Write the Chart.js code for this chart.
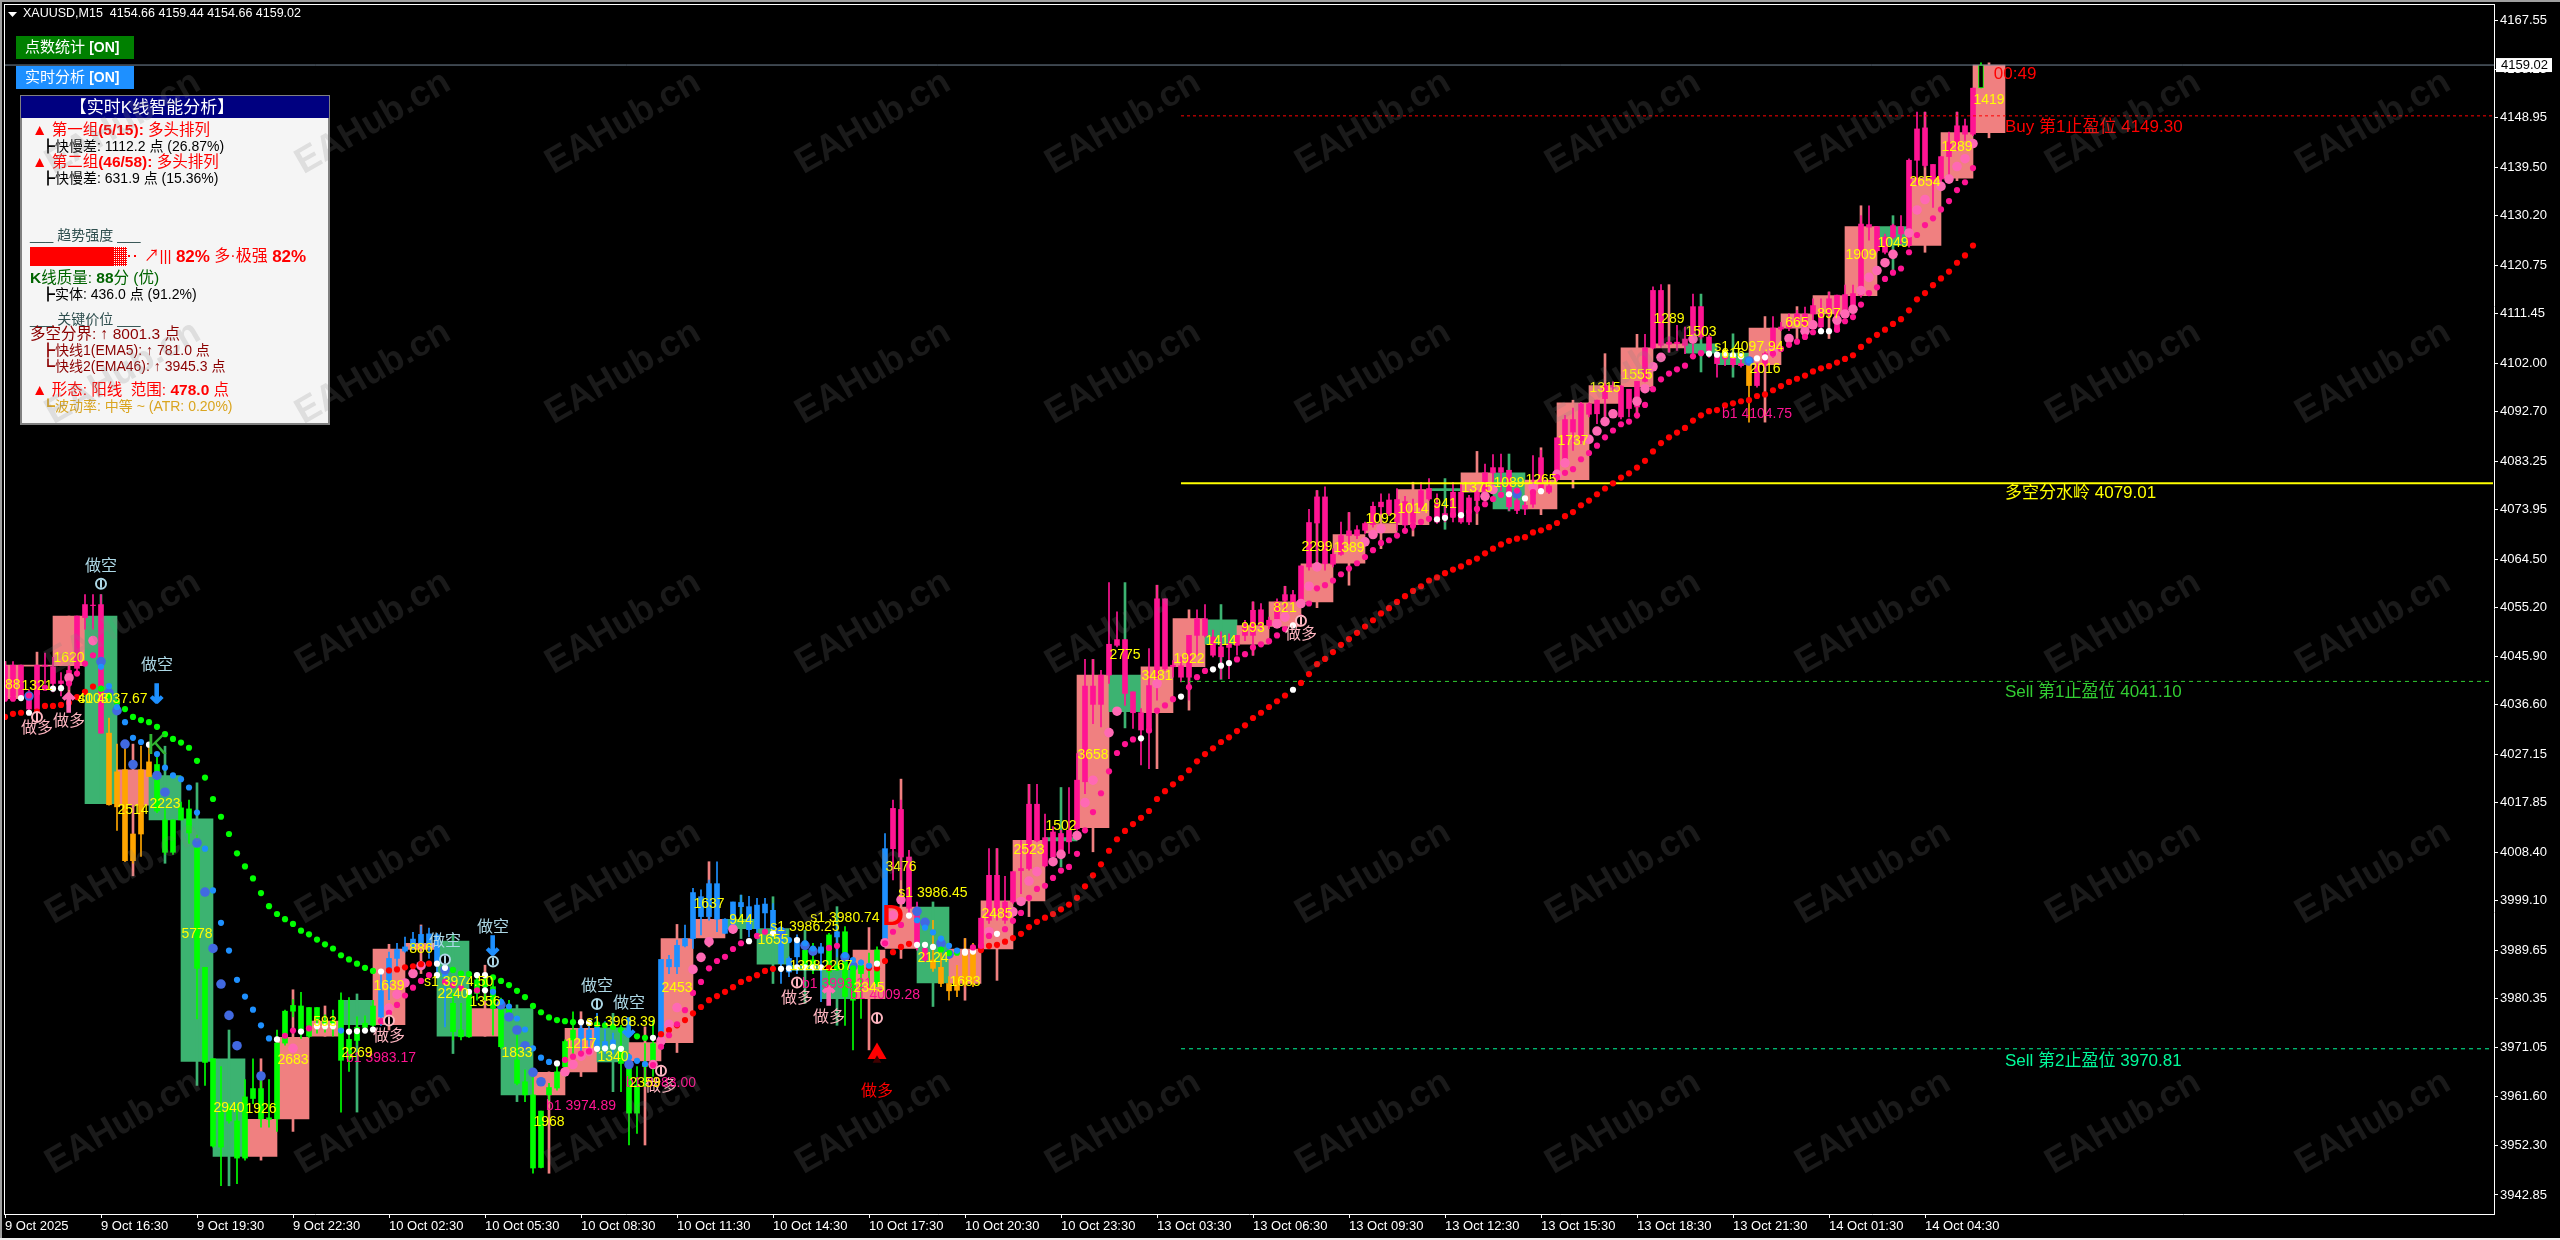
<!DOCTYPE html>
<html>
<head>
<meta charset="utf-8">
<title>XAUUSD,M15</title>
<script src="https://cdn.jsdelivr.net/npm/chart.js@4"></script>
<style>
  html, body { margin: 0; padding: 0; background: #000; overflow: hidden; }
  canvas { display: block; }
</style>
</head>
<body>
<canvas id="xauChart" width="2560" height="1240"></canvas>
<script>
// axis labels
const yTickValues = [4167.55,4158.25,4148.95,4139.50,4130.20,4120.75,4111.45,4102.00,4092.70,4083.25,4073.95,4064.50,4055.20,4045.90,4036.60,4027.15,4017.85,4008.40,3999.10,3989.65,3980.35,3971.05,3961.60,3952.30,3942.85];
const xTickBars = [0,12,24,36,48,60,72,84,96,108,120,132,144,156,168,180,192,204,216,228,240];
const xTickLabels = ['9 Oct 2025','9 Oct 16:30','9 Oct 19:30','9 Oct 22:30','10 Oct 02:30','10 Oct 05:30','10 Oct 08:30','10 Oct 11:30','10 Oct 14:30','10 Oct 17:30','10 Oct 20:30','10 Oct 23:30','13 Oct 03:30','13 Oct 06:30','13 Oct 09:30','13 Oct 12:30','13 Oct 15:30','13 Oct 18:30','13 Oct 21:30','14 Oct 01:30','14 Oct 04:30'];

// M15 candles, one entry per bar
const bodyHigh = [
4044.1,4044.2,4044.2,4037.8,4044.2,4044.2,4043.9,4041.2,4043.2,4053.6,
4055.8,4055.7,4055.8,4031.2,4023.8,4024.2,4011.9,4024.2,4025.7,4025.2,
4014.6,4014.6,4016.9,4016.7,4009.2,3986.4,3968.9,3958.7,3959.5,3957.0,
3961.6,3963.2,3963.2,3957.6,3971.9,3978.0,3979.1,3979.0,3978.7,3978.7,
3976.1,3976.1,3980.1,3972.6,3974.9,3975.7,3979.0,3981.9,3988.1,3989.8,
3990.3,3991.8,3992.7,3992.8,3992.6,3986.5,3979.5,3974.4,3981.4,3984.0,
3984.0,3982.7,3979.5,3978.5,3968.7,3964.5,3962.0,3958.9,3963.4,3966.4,
3972.2,3974.4,3974.7,3974.4,3975.0,3972.2,3972.5,3971.2,3967.1,3963.9,
3968.0,3971.8,3987.9,3987.9,3990.6,3991.9,4000.7,3999.9,4002.4,4002.4,
3995.6,3998.9,3998.8,3998.0,3998.3,3998.5,3997.3,3993.8,3988.1,3991.9,
3989.7,3987.8,3990.3,3992.6,3993.2,3993.2,3985.9,3986.8,3986.5,3989.7,
4009.1,4016.8,4016.6,4007.5,3997.3,3990.0,3987.8,3986.4,3983.3,3984.6,
3989.7,3989.7,3995.8,4004.0,4004.0,3998.9,4004.7,4005.3,4017.6,4017.6,
4011.2,4012.3,4012.0,4012.6,4022.2,4040.2,4040.2,4042.3,4048.2,4049.1,
4049.1,4039.1,4035.1,4040.3,4056.9,4056.9,4044.2,4044.1,4049.9,4053.1,
4053.1,4049.6,4047.7,4048.3,4049.9,4052.1,4054.7,4054.8,4052.8,4056.3,
4057.7,4057.7,4063.2,4071.5,4076.4,4076.4,4065.4,4069.0,4069.9,4070.1,
4071.3,4074.6,4075.4,4075.8,4075.9,4075.5,4073.5,4077.6,4078.0,4075.1,
4073.2,4077.3,4077.3,4076.2,4077.3,4081.0,4082.0,4082.0,4081.5,4075.7,
4074.8,4077.3,4083.9,4078.5,4087.7,4091.2,4091.2,4094.2,4094.2,4094.9,
4097.6,4097.7,4097.6,4097.0,4098.5,4104.9,4115.9,4115.9,4106.0,4106.0,
4106.6,4112.8,4112.8,4107.0,4103.5,4103.8,4103.5,4101.9,4101.7,4101.5,
4103.8,4108.7,4108.9,4110.1,4111.4,4111.4,4113.0,4111.6,4114.3,4115.0,
4115.1,4115.3,4128.6,4128.5,4128.1,4126.1,4128.3,4128.1,4140.8,4146.8,
4147.0,4140.0,4141.5,4144.3,4147.4,4147.4,4154.6,4159.02];
const bodyLow = [
4038.3,4038.3,4037.8,4035.8,4035.8,4044.0,4040.7,4040.7,4040.7,4043.6,
4053.3,4055.6,4031.2,4017.5,4017.1,4006.8,4006.8,4011.9,4022.9,4016.3,
4008.4,4008.4,4014.6,4012.1,3986.2,3968.2,3952.2,3952.0,3957.0,3949.9,
3949.9,3961.3,3957.4,3957.3,3957.4,3971.9,3978.0,3974.0,3973.2,3976.5,
3974.9,3974.9,3968.6,3969.0,3972.4,3974.9,3975.3,3976.9,3983.5,3988.1,
3989.5,3990.3,3991.0,3991.0,3987.1,3984.6,3974.1,3973.1,3973.1,3981.4,
3982.7,3978.5,3971.2,3976.9,3964.2,3962.0,3948.0,3948.1,3962.0,3963.3,
3967.4,3972.5,3972.8,3972.5,3971.2,3970.9,3971.2,3968.0,3958.5,3958.5,
3967.4,3967.4,3970.9,3986.5,3986.5,3990.5,3991.9,3996.1,3996.1,3995.6,
3992.9,3994.5,3998.0,3993.6,3993.8,3996.8,3993.6,3987.1,3985.5,3988.4,
3986.8,3986.5,3989.1,3985.5,3992.2,3980.8,3980.1,3985.2,3986.2,3983.3,
3991.0,4009.1,4007.5,3997.7,3990.4,3987.8,3986.2,3983.3,3981.9,3982.0,
3983.3,3984.0,3990.0,3995.4,3997.0,3995.4,3998.9,4004.9,4005.3,4010.6,
4005.8,4007.5,4008.2,4010.4,4012.9,4021.9,4036.7,4036.7,4042.3,4048.0,
4038.8,4035.1,4031.8,4031.4,4040.3,4043.5,4043.9,4041.9,4041.9,4049.9,
4049.9,4046.1,4045.8,4047.6,4048.0,4049.9,4049.9,4051.8,4051.8,4053.1,
4056.6,4056.3,4056.6,4063.0,4071.4,4063.6,4063.5,4065.4,4069.0,4069.0,
4070.0,4071.1,4074.5,4073.2,4071.5,4071.0,4071.5,4074.4,4076.0,4071.6,
4072.2,4072.5,4071.6,4071.6,4075.7,4077.3,4081.0,4081.1,4074.5,4073.8,
4074.1,4075.0,4077.3,4077.3,4079.7,4082.7,4088.8,4087.2,4092.2,4092.3,
4095.2,4097.4,4091.7,4093.3,4093.6,4098.5,4104.9,4105.4,4105.6,4105.7,
4105.4,4106.6,4107.0,4104.4,4101.9,4102.8,4101.7,4101.5,4097.7,4097.7,
4101.5,4103.5,4108.5,4108.7,4109.8,4107.3,4111.4,4108.9,4111.4,4108.1,
4111.4,4112.1,4115.0,4128.0,4123.5,4123.2,4126.1,4126.7,4124.5,4140.8,
4139.8,4137.2,4137.2,4141.5,4143.9,4145.8,4145.8,4154.66];
const wickHigh = [
4044.9,4044.9,4044.2,4039.5,4044.2,4046.5,4045.7,4042.8,4044.1,4053.6,
4057.7,4057.7,4057.7,4034.1,4029.1,4029.1,4011.9,4028.7,4028.7,4027.5,
4016.7,4014.6,4018.0,4018.4,4011.7,3986.4,3968.9,3967.4,3960.3,3960.3,
3964.9,3968.9,3964.9,3964.9,3974.4,3978.2,3980.2,3981.6,3978.7,3978.7,
3977.3,3978.2,3981.5,3980.6,3976.9,3977.1,3980.1,3985.2,3989.3,3991.0,
3992.2,3993.1,3994.3,3993.9,3992.9,3986.5,3981.4,3979.5,3982.0,3985.2,
3985.2,3984.0,3980.5,3980.1,3973.8,3966.8,3965.5,3958.9,3964.2,3968.0,
3972.5,3977.9,3976.3,3976.3,3977.6,3976.0,3973.8,3975.3,3969.9,3967.4,
3971.8,3976.3,3987.9,3988.7,3991.6,3994.5,4001.5,4001.2,4003.1,4006.6,
3995.7,3998.9,4000.2,4000.0,3999.6,3999.6,3998.6,3994.2,3988.4,3992.6,
3991.0,3991.0,3991.0,3992.9,3994.2,3994.2,3987.1,3987.8,3989.1,3990.3,
4012.0,4018.4,4018.4,4008.8,3998.9,3990.6,3995.4,3992.2,3984.6,3986.8,
3991.9,3991.0,3995.8,4009.1,4009.1,4003.8,4004.7,4010.7,4021.4,4021.4,
4015.7,4013.3,4012.6,4020.8,4027.3,4045.3,4045.3,4043.2,4060.0,4054.4,
4049.1,4039.1,4035.9,4047.4,4059.5,4056.9,4045.1,4045.8,4049.9,4054.8,
4055.8,4050.9,4050.6,4050.2,4049.9,4052.8,4056.3,4056.0,4053.4,4056.9,
4059.3,4058.5,4063.2,4074.0,4077.6,4078.3,4066.5,4071.6,4073.4,4070.9,
4071.6,4075.4,4077.0,4077.0,4078.0,4076.5,4076.0,4079.2,4079.9,4077.0,
4074.5,4079.2,4078.9,4076.7,4077.6,4082.7,4084.5,4084.6,4081.5,4076.4,
4076.7,4084.3,4085.3,4079.5,4087.7,4092.0,4093.4,4094.5,4094.4,4094.9,
4098.0,4098.4,4097.7,4097.0,4098.5,4107.5,4116.6,4117.0,4107.0,4109.2,
4108.9,4115.2,4112.8,4107.3,4104.1,4104.7,4103.8,4103.1,4101.7,4101.9,
4104.1,4110.9,4109.8,4111.4,4112.1,4112.7,4114.3,4114.3,4115.6,4115.0,
4116.9,4116.9,4130.2,4132.1,4128.1,4126.7,4128.6,4130.2,4141.1,4150.0,
4150.0,4140.0,4141.5,4146.2,4150.0,4148.7,4154.6,4159.44];
const wickLow = [
4037.8,4037.8,4037.4,4035.3,4035.3,4040.7,4039.1,4038.3,4039.5,4042.4,
4051.1,4051.1,4031.2,4017.4,4012.6,4006.6,4006.3,4007.6,4022.9,4016.0,
4008.0,4008.0,4014.6,4010.1,3976.5,3963.8,3952.0,3944.6,3956.6,3945.0,
3949.5,3960.3,3955.8,3955.8,3955.0,3971.5,3976.9,3972.8,3973.0,3973.8,
3974.0,3973.2,3958.7,3966.5,3971.5,3974.4,3974.9,3975.3,3980.2,3986.0,
3989.3,3989.8,3990.6,3988.1,3985.2,3975.0,3972.5,3972.5,3973.0,3980.1,
3980.1,3973.4,3970.9,3976.3,3963.9,3960.7,3947.0,3948.0,3961.0,3962.9,
3965.5,3969.9,3969.9,3969.9,3970.9,3969.9,3969.9,3962.6,3952.4,3954.6,
3963.6,3965.5,3970.7,3985.2,3985.2,3990.3,3990.0,3992.6,3995.4,3993.2,
3992.9,3992.9,3996.7,3992.2,3992.6,3992.9,3992.9,3983.3,3984.6,3985.2,
3985.9,3985.2,3979.8,3980.5,3988.4,3975.3,3970.6,3976.6,3982.7,3982.7,
3990.3,4003.1,4003.1,3996.1,3989.7,3987.5,3985.6,3982.7,3980.1,3980.8,
3982.7,3982.7,3989.7,3994.8,3995.4,3994.8,3998.6,4000.5,4005.0,4010.4,
4005.6,4007.2,4007.5,4008.2,4012.6,4019.6,4033.0,4032.4,4040.7,4047.7,
4036.5,4032.1,4025.1,4024.4,4037.5,4043.2,4041.9,4041.0,4037.5,4046.1,
4049.6,4045.8,4041.6,4041.6,4046.1,4048.9,4046.1,4051.2,4051.2,4052.8,
4054.7,4056.0,4056.3,4062.4,4062.4,4062.4,4063.0,4065.2,4067.4,4068.4,
4069.4,4070.6,4073.2,4072.8,4070.0,4070.0,4070.0,4073.8,4075.7,4071.3,
4071.6,4071.6,4071.3,4071.1,4073.2,4077.0,4078.6,4077.6,4073.8,4073.2,
4073.0,4074.4,4077.0,4077.0,4079.5,4082.4,4085.3,4086.6,4091.7,4090.4,
4091.7,4096.8,4091.3,4091.7,4092.3,4098.4,4104.7,4105.0,4104.1,4104.4,
4103.8,4103.8,4106.6,4103.1,4099.3,4101.5,4101.2,4101.2,4090.7,4097.4,
4101.2,4103.1,4108.2,4108.2,4109.5,4107.3,4108.9,4108.2,4110.8,4107.9,
4110.8,4111.7,4114.6,4125.5,4123.2,4122.9,4125.8,4124.8,4124.2,4136.0,
4139.5,4131.8,4136.6,4136.9,4142.7,4144.6,4145.5,4154.66];
// body colour per run of bars: p pink, o orange, g green, b blue, h hollow
const bodyKindRuns = [['p',13],['o',6],['g',28],['b',9],['g',16],['b',5],['g',5],['b',18],['g',2],['b',1],['g',1],['b',1],['g',5],['b',1],['p',5],['o',6],['p',96],['o',1],['p',28],['h',1]];

// H1 candles behind the M15 bars, one entry every 4 bars
const hourBars = [0,4,8,12,16,20,24,28,32,36,40,44,48,52,56,60,64,68,72,76,80,84,88,92,96,100,104,108,112,116,120,124,128,132,136,140,144,148,152,156,160,164,168,172,176,180,184,188,192,196,200,204,208,212,216,220,224,228,232,236,240,244,248];
const hourTop = [4044.2,4044.2,4053.6,4053.6,4024.2,4023.1,4014.8,3968.9,3957.3,3973.0,3976.1,3980.1,3989.9,3991.0,3991.4,3978.5,3978.5,3966.3,3974.7,3974.8,3972.0,3991.9,3995.6,3995.6,3993.8,3986.8,3985.8,3989.7,3997.9,3997.9,3989.9,3999.1,4010.7,4011.2,4042.3,4042.3,4043.9,4053.1,4052.9,4051.8,4056.3,4063.6,4069.2,4071.3,4077.8,4078.0,4081.0,4081.0,4079.6,4094.4,4097.7,4104.9,4105.7,4105.7,4103.9,4108.7,4111.4,4114.9,4128.1,4128.1,4137.4,4146.1,4159.0];
const hourBottom = [4037.8,4044.0,4044.1,4017.7,4017.4,4014.6,3968.4,3950.2,3950.2,3957.4,3973.2,3975.4,3975.4,3989.8,3973.2,3973.2,3962.0,3962.0,3966.4,3968.3,3968.5,3972.0,3992.0,3993.8,3987.0,3985.8,3980.4,3980.4,3990.0,3983.4,3983.3,3989.9,3999.1,4010.6,4013.1,4035.3,4035.1,4043.9,4048.2,4048.2,4051.6,4056.3,4063.7,4069.5,4071.1,4077.6,4077.3,4074.1,4074.1,4079.7,4094.3,4097.5,4104.9,4103.9,4101.7,4101.7,4108.7,4111.4,4114.9,4124.5,4124.5,4137.4,4146.1];
const hourHigh = [4044.9,4046.7,4053.6,4057.7,4029.1,4028.7,4021.7,3974.4,3968.9,3982.1,3979.0,3981.3,3990.8,3994.5,3992.6,3986.8,3979.2,3966.4,3977.9,3977.6,3975.0,3994.6,4006.6,4000.2,3999.9,3993.5,3998.0,3994.0,4022.4,3998.9,3991.9,4009.1,4021.4,4020.8,4045.3,4060.0,4059.5,4054.8,4055.8,4056.3,4059.3,4077.6,4073.4,4073.2,4079.2,4079.9,4085.1,4084.6,4085.8,4094.9,4103.8,4107.5,4117.0,4115.2,4107.6,4110.9,4112.8,4115.6,4132.1,4130.2,4150.0,4150.0,4159.44];
const hourLow = [4037.4,4034.9,4036.6,4017.7,4003.9,4006.3,3963.8,3944.6,3949.5,3955.0,3973.2,3958.7,3974.4,3985.2,3969.9,3973.2,3960.7,3947.0,3965.5,3962.6,3952.4,3970.1,3990.3,3991.9,3983.3,3979.5,3975.3,3970.6,3988.1,3978.9,3980.1,3983.9,3996.1,4005.6,4008.5,4032.2,4024.4,4035.6,4041.5,4046.1,4051.2,4055.2,4059.5,4066.5,4068.9,4070.2,4071.1,4073.7,4073.0,4078.1,4091.7,4091.5,4104.1,4100.3,4099.3,4090.7,4105.7,4106.7,4114.9,4119.7,4123.2,4136.9,4145.1];
const hourKindRuns = [['s',3],['e',1],['s',1],['e',3],['s',3],['e',1],['s',2],['e',1],['s',1],['e',1],['s',2],['e',1],['s',3],['e',4],['s',2],['e',1],['s',3],['e',1],['s',1],['e',1],['s',2],['e',1],['s',6],['e',1],['s',1],['e',1],['s',5],['e',2],['s',4],['e',1],['s',3]];

// slow moving average dots
const slowLine = [
4034.3,4034.9,4035.1,4035.1,4035.3,4036.4,4036.4,4036.6,4037.0,4038.1,
4039.1,4040.1,4039.7,4038.4,4037.0,4035.8,4034.3,4033.7,4033.3,4032.4,
4031.0,4030.1,4029.4,4028.4,4025.9,4022.7,4018.6,4015.2,4011.9,4008.2,
4005.7,4003.4,4000.6,3998.1,3996.6,3995.6,3994.7,3993.4,3992.7,3991.7,
3990.8,3990.0,3988.7,3987.9,3987.1,3986.3,3985.7,3985.6,3985.8,3986.0,
3986.4,3986.6,3987.0,3987.1,3987.1,3986.3,3985.9,3985.2,3985.1,3984.9,
3984.9,3984.5,3983.8,3983.0,3981.9,3980.7,3979.0,3977.8,3976.8,3976.3,
3976.1,3975.9,3975.9,3975.8,3975.5,3975.3,3975.0,3974.4,3973.8,3973.2,
3972.9,3972.9,3973.6,3974.4,3975.3,3976.3,3977.6,3978.8,3980.1,3980.9,
3981.7,3982.6,3983.6,3984.2,3984.9,3985.7,3986.1,3986.1,3986.2,3986.4,
3986.4,3986.4,3986.4,3986.3,3986.3,3986.3,3986.2,3986.2,3986.3,3986.2,
3987.6,3989.3,3990.3,3990.9,3990.7,3990.7,3990.3,3989.8,3989.1,3989.2,
3989.2,3989.4,3989.7,3990.5,3990.7,3991.3,3992.0,3992.8,3994.1,3995.1,
3995.9,3996.6,3997.5,3998.4,3999.7,4001.9,4004.0,4006.1,4008.7,4010.9,
4012.5,4013.8,4015.0,4016.3,4018.6,4020.1,4021.4,4022.6,4024.1,4025.8,
4027.2,4028.3,4029.5,4030.4,4031.6,4032.7,4034.1,4035.1,4036.2,4037.3,
4038.4,4039.5,4040.8,4042.5,4044.4,4045.4,4046.7,4048.1,4049.2,4050.4,
4051.6,4052.8,4054.1,4055.1,4056.3,4057.4,4058.4,4059.3,4060.4,4061.0,
4061.8,4062.5,4063.1,4063.9,4064.6,4065.6,4066.5,4067.3,4068.0,4068.4,
4068.7,4069.6,4070.0,4070.6,4071.4,4072.7,4073.5,4074.8,4075.7,4076.9,
4078.0,4079.0,4080.1,4080.9,4082.0,4083.3,4085.1,4086.7,4087.8,4088.7,
4089.6,4091.0,4092.0,4092.8,4093.0,4093.9,4094.3,4094.7,4094.9,4095.7,
4096.0,4096.8,4097.6,4098.4,4099.0,4099.6,4100.4,4101.0,4101.4,4102.1,
4102.8,4103.5,4105.1,4106.3,4107.4,4108.4,4109.5,4110.4,4112.1,4114.2,
4115.4,4116.9,4118.2,4119.5,4121.2,4122.6,4124.5,null];
const slowKindRuns = [['r',3],['w',1],['r',8],['g',35],['w',1],['r',6],['w',2],['g',3],['w',2],['g',11],['w',2],['g',7],['w',1],['r',15],['w',6],['r',1],['g',4],['r',6],['w',3],['g',3],['w',2],['r',39],['w',1],['r',86]];

// fast moving average dots
const fastLine = [
4037.8,4037.8,4037.9,4038.4,4038.9,4039.9,4039.7,4039.8,4040.7,4042.6,
4044.5,4046.1,4043.9,4040.2,4036.2,4033.3,4030.3,4029.5,4029.0,4027.2,
4024.6,4023.1,4022.4,4020.8,4016.0,4009.1,4001.1,3994.9,3989.6,3984.0,
3980.8,3978.3,3975.3,3972.8,3972.6,3973.3,3974.3,3974.1,3974.7,3975.1,
3975.1,3975.1,3974.3,3974.1,3974.2,3974.3,3974.5,3976.1,3977.7,3979.2,
3981.0,3982.5,3983.8,3984.9,3984.9,3983.6,3983.0,3982.4,3981.7,3982.0,
3982.0,3981.7,3979.8,3978.9,3976.6,3974.5,3970.9,3969.1,3968.3,3968.0,
3968.7,3969.3,3969.9,3970.3,3970.8,3970.9,3971.2,3970.8,3969.2,3968.5,
3967.9,3967.7,3971.2,3973.4,3975.5,3978.2,3981.5,3983.6,3986.2,3987.6,
3988.4,3989.9,3991.0,3991.4,3992.4,3993.2,3992.9,3993.5,3991.6,3991.6,
3991.0,3990.0,3989.7,3990.1,3990.5,3988.7,3987.8,3987.3,3986.7,3987.1,
3991.0,3993.2,3994.5,3996.3,3995.4,3994.0,3993.1,3991.9,3990.5,3989.6,
3989.4,3990.2,3990.5,3992.4,3992.8,3993.7,3995.3,3996.8,3999.7,4001.4,
4002.0,4003.5,4004.9,4005.6,4008.1,4012.6,4016.1,4019.7,4023.9,4027.4,
4029.1,4030.0,4030.2,4031.7,4035.5,4036.5,4037.7,4038.2,4040.0,4041.9,
4043.1,4043.4,4044.1,4044.6,4045.3,4046.3,4047.6,4048.2,4048.8,4049.9,
4051.1,4051.8,4053.3,4056.0,4058.9,4059.5,4060.4,4061.6,4062.7,4063.7,
4064.9,4066.2,4067.6,4068.1,4069.0,4069.9,4070.9,4071.6,4072.2,4072.1,
4072.4,4073.0,4072.9,4073.6,4074.1,4075.0,4076.0,4076.8,4076.9,4077.6,
4076.1,4077.3,4077.5,4077.9,4080.2,4081.0,4081.7,4083.6,4084.8,4086.2,
4087.8,4089.1,4090.3,4090.8,4092.0,4094.0,4097.0,4098.9,4100.0,4100.8,
4101.5,4103.3,4103.9,4103.8,4103.6,4103.8,4103.5,4103.3,4102.5,4102.9,
4103.1,4103.8,4104.7,4105.5,4106.1,4107.0,4107.9,4108.1,4108.1,4108.4,
4110.0,4110.8,4113.2,4115.4,4116.5,4118.1,4119.3,4120.1,4123.2,4126.5,
4128.4,4129.7,4131.4,4133.0,4135.1,4136.6,4139.3,null];
const fastKindRuns = [['p',2],['w',1],['p',3],['w',2],['p',4],['b',6],['w',1],['b',15],['w',1],['p',2],['w',1],['p',1],['w',3],['b',1],['w',4],['p',7],['w',1],['p',3],['w',1],['p',1],['w',1],['b',8],['w',1],['p',4],['w',4],['b',3],['p',12],['w',1],['p',2],['w',1],['b',2],['w',1],['b',3],['p',2],['b',4],['w',1],['p',3],['w',1],['b',6],['w',1],['p',3],['w',1],['p',17],['w',1],['p',4],['w',1],['p',3],['w',3],['p',7],['w',1],['p',17],['w',2],['p',1],['w',1],['p',5],['w',1],['p',1],['w',1],['p',1],['w',1],['p',20],['w',5],['b',1],['w',2],['p',6],['w',2],['p',18]];

// larger middle dots, only where they show
const midBars = [3,8,11,12,13,14,15,16,19,20,24,25,26,27,28,29,32,36,48,49,50,51,52,55,62,63,64,65,66,67,70,71,72,73,78,81,82,83,84,86,87,88,91,97,100,101,105,106,110,111,112,114,115,117,118,123,126,127,128,129,131,132,134,135,136,138,139,144,159,160,162,163,164,170,171,172,185,186,189,191,194,195,198,199,200,201,204,205,206,207,211,218,221,223,225,226,229,230,231,232,233,234,235,236,238,239,240,242,243,244,245,246];
const midLine = [4038.3,4041.8,4048.9,4044.9,4038.9,4035.5,4029.1,4025.2,4023.1,4019.9,4010.2,4000.8,3990.0,3983.2,3977.2,3971.4,3965.6,3970.9,3978.6,3981.2,3983.4,3985.2,3986.7,3985.9,3979.2,3976.9,3974.4,3971.4,3966.3,3964.5,3966.4,3967.8,3969.4,3970.3,3967.8,3967.8,3972.3,3975.5,3978.7,3986.0,3988.3,3991.3,3993.7,3993.2,3990.6,3989.5,3988.4,3986.6,3991.1,3996.4,3999.3,3997.1,3995.0,3991.0,3988.9,3993.2,3997.0,3999.0,4002.9,4004.7,4006.6,4008.0,4011.6,4017.9,4022.2,4031.3,4035.4,4040.7,4052.1,4053.4,4056.0,4059.3,4063.0,4067.8,4069.2,4070.3,4076.5,4077.8,4077.0,4078.2,4080.7,4082.9,4087.4,4089.0,4090.8,4092.3,4094.7,4097.1,4101.3,4103.1,4106.6,4102.4,4104.1,4106.7,4108.1,4109.3,4110.2,4111.4,4112.3,4115.9,4118.4,4119.7,4121.2,4122.8,4126.9,4131.3,4133.3,4135.8,4137.2,4139.6,4141.1,4144.0];
const midKindRuns = [['b',1],['p',2],['b',14],['p',6],['b',7],['p',4],['b',1],['p',8],['b',5],['p',3],['b',4],['p',23],['b',1],['p',12],['b',1],['p',20]];

// price levels on the right side
const levelStartBar = 147;
const levelEndBar = 311;
const levelPrices = [4149.30, 4079.01, 4041.10, 3970.81];
const lastPrice = 4159.02;

// yellow volume numbers on the H1 candles
const volumeLabels = [['1388',0,4040.3],['1321',4,4040.2],['1620',8,4045.6],['4003',11,4037.7],['2514',16,4016.5],['2223',20,4017.7],['5778',24,3992.8],['2940',28,3959.5],['1926',32,3959.2],['2683',36,3968.6],['593',40,3975.9],['2269',44,3970.0],['1639',48,3982.7],['886',52,3989.9],['2240',56,3981.2],['1356',60,3979.8],['1833',64,3969.9],['1968',68,3956.7],['1217',72,3971.7],['1340',76,3969.3],['2359',80,3964.2],['2453',84,3982.4],['1637',88,3998.4],['944',92,3995.4],['1655',96,3991.5],['1328',100,3986.7],['2267',104,3986.7],['2345',108,3982.4],['3476',112,4005.5],['2124',116,3988.2],['1683',120,3983.6],['2485',124,3996.5],['2523',128,4008.8],['1502',132,4013.4],['3658',136,4027.0],['2775',140,4046.1],['3481',144,4042.1],['1922',148,4045.3],['1414',152,4048.8],['993',156,4051.2],['821',160,4055.2],['2299',164,4066.7],['1389',168,4066.5],['1092',172,4072.1],['1014',176,4074.0],['941',180,4075.1],['1375',184,4078.1],['1089',188,4079.1],['1265',192,4079.6],['1737',196,4087.0],['1315',200,4097.3],['1555',204,4099.6],['1289',208,4110.5],['1503',212,4107.9],['616',216,4103.7],['2016',220,4100.9],['665',224,4109.6],['897',228,4111.3],['1909',232,4122.6],['1049',236,4125.0],['2654',240,4136.6],['1289',244,4143.4],['1419',248,4152.3]];
const sellStopLabels = [['s1 4037.67',13.5,4037.7],['s1 3974.50',56.7,3983.6],['s1 3968.39',77,3975.9],['s1 3986.25',100,3994.1],['s1 3980.74',105,3995.9],['s1 3986.45',116,4000.5],['s1 4097.94',218,4105.1]];
const buyStopLabels = [['b1 3983.17',47,3969.0],['b1 3974.89',72,3959.9],['b1 3983.00',82,3964.2],['b1 3993.21',104,3983.1],['b1 4009.28',110,3981.0],['b1 4104.75',219,4092.2]];
const shortLabels = [['做空',12,4063.0],['做空',19,4044.2],['做空',55,3991.3],['做空',61,3994.0],['做空',74,3982.8],['做空',78,3979.4]];
const longLabels = [['做多',4,4032.0],['做多',8,4033.4],['做多',48,3973.2],['做多',82,3963.6],['做多',99,3980.5],['做多',103,3976.8],['做多',162,4050.0]];
const shortRingBars = [12,55,61,74];
const shortRingPrices = [4059.8,3987.9,3987.5,3979.4];
const longRingBars = [4,48,82,99,109,162];
const longRingPrices = [4034.3,3976.2,3966.6,3983.5,3976.7,4052.7];
const downArrows = [['↓',19,4038.3],['↓',61,3990.0],['↓',78,3974.4]];
const upArrows = [['↑',8,4036.6],['↑',103,3980.5]];
const redArrowBars = [109];
const redArrowPrices = [3969.9];
const levelLabels = [['Buy 第1止盈位 4149.30',250,4147.2,'#ff0000'],['多空分水岭 4079.01',250,4077.1,'#ffff00'],['Sell 第1止盈位 4041.10',250,4039.0,'#32cd32'],['Sell 第2止盈位 3970.81',250,3968.5,'#00fa9a']];

const SANS = '"Liberation Sans","Noto Sans CJK SC",sans-serif';
const bodyColors = { p: '#ff1493', o: '#ffa500', g: '#00ff00', b: '#1e90ff', h: '#000000' };
const lineColors = { p: '#ff1493', o: '#ffa500', g: '#00ff00', b: '#1e90ff', h: '#00ff00' };
const hourColors = { s: '#f08080', e: '#3cb371' };
const slowColors = { r: '#ff0000', g: '#00ff00', w: '#ffffff' };
const fastColors = { p: '#ff1493', b: '#1e90ff', w: '#ffffff' };
const midColors = { p: '#ff69b4', b: '#4169e1' };

function expandRuns(runs) {
    let out = [];
    runs.forEach(r => { for (let n = 0; n < r[1]; n++) out.push(r[0]); });
    return out;
}
const bodyKinds = expandRuns(bodyKindRuns);
const hourKinds = expandRuns(hourKindRuns);
const slowKinds = expandRuns(slowKindRuns);
const fastKinds = expandRuns(fastKindRuns);
const midKinds = expandRuns(midKindRuns);

function floating(bars, hi, lo) {
    return hi.map((v, n) => ({ x: bars ? bars[n] : n, y: [lo[n], v] }));
}
function dots(bars, values) {
    return values.map((v, n) => ({ x: bars ? bars[n] : n, y: v }));
}
function level(price) {
    return [{ x: levelStartBar, y: price }, { x: levelEndBar, y: price }];
}

function drawRuns(ctx, x, y, runs) {
    runs.forEach(r => {
        ctx.font = r[1];
        ctx.fillStyle = r[2];
        ctx.fillText(r[0], x, y);
        x += ctx.measureText(r[0]).width;
    });
}

function drawPanel(ctx) {
    ctx.fillStyle = '#808080';
    ctx.fillRect(20, 95, 310, 330);
    ctx.fillStyle = '#f5f5f5';
    ctx.fillRect(22, 97, 306, 326);
    ctx.fillStyle = '#000080';
    ctx.fillRect(21, 96, 308, 22);
    ctx.textAlign = 'center';
    ctx.textBaseline = 'middle';
    ctx.font = '17px ' + SANS;
    ctx.fillStyle = '#ffffff';
    ctx.fillText('【实时K线智能分析】', 152, 108);
    ctx.textAlign = 'left';

    const normal = '15.5px ' + SANS;
    const bold = 'bold 15.5px ' + SANS;
    const small = '14px ' + SANS;
    const head = '14px ' + SANS;
    drawRuns(ctx, 32, 131, [['▲ 第一组', normal, '#ff0000'], ['(5/15):', bold, '#ff0000'], [' 多头排列', normal, '#ff0000']]);
    drawRuns(ctx, 41, 147, [['┣快慢差: 1112.2 点 (26.87%)', small, '#000000']]);
    drawRuns(ctx, 32, 163, [['▲ 第二组', normal, '#ff0000'], ['(46/58):', bold, '#ff0000'], [' 多头排列', normal, '#ff0000']]);
    drawRuns(ctx, 41, 179, [['┣快慢差: 631.9 点 (15.36%)', small, '#000000']]);
    drawRuns(ctx, 30, 236, [['___ 趋势强度 ___', head, '#2f4f4f']]);

    ctx.fillStyle = '#ff0000';
    ctx.fillRect(30, 247, 97, 19);
    ctx.fillStyle = '#ffffff';
    for (let px = 114; px < 127; px += 2) {
        for (let py = 247; py < 266; py += 2) ctx.fillRect(px, py, 1, 1);
    }
    ctx.fillStyle = '#ff0000';
    ctx.fillRect(128, 255, 2, 2);
    ctx.fillRect(134, 255, 2, 2);
    drawRuns(ctx, 144, 257, [['↗||| ', normal, '#ff0000'], ['82%', 'bold 17px ' + SANS, '#ff0000'], [' 多·极强 ', '16px ' + SANS, '#ff0000'], ['82%', 'bold 17px ' + SANS, '#ff0000']]);

    drawRuns(ctx, 30, 279, [['K', bold, '#006400'], ['线质量: ', normal, '#006400'], ['88', bold, '#006400'], ['分 (优)', normal, '#006400']]);
    drawRuns(ctx, 41, 295, [['┣实体: 436.0 点 (91.2%)', small, '#000000']]);
    drawRuns(ctx, 30, 320, [['___ 关键价位 ___', head, '#2f4f4f']]);
    drawRuns(ctx, 30, 335, [['多空分界: ↑ 8001.3 点', normal, '#8b0000']]);
    drawRuns(ctx, 41, 351, [['┣快线1(EMA5): ↑ 781.0 点', small, '#8b0000']]);
    drawRuns(ctx, 41, 367, [['┗快线2(EMA46): ↑ 3945.3 点', small, '#8b0000']]);
    drawRuns(ctx, 32, 391, [['▲ 形态: 阳线  范围: ', normal, '#ff0000'], ['478.0', bold, '#ff0000'], [' 点', normal, '#ff0000']]);
    drawRuns(ctx, 41, 407, [['┗波动率: 中等 ~ (ATR: 0.20%)', small, '#daa520']]);
}

function drawButtons(ctx) {
    ctx.fillStyle = '#008000';
    ctx.fillRect(16, 36, 118, 23);
    ctx.fillStyle = '#1e90ff';
    ctx.fillRect(16, 66, 118, 23);
    ctx.textAlign = 'left';
    ctx.textBaseline = 'middle';
    drawRuns(ctx, 25, 48, [['点数统计 ', '15px ' + SANS, '#ffffff'], ['[ON]', 'bold 14px ' + SANS, '#ffffff']]);
    drawRuns(ctx, 25, 78, [['实时分析 ', '15px ' + SANS, '#ffffff'], ['[ON]', 'bold 14px ' + SANS, '#ffffff']]);
}

const textPlugin = {
    id: 'chartText',
    afterDatasetsDraw(chart) {
        const ctx = chart.ctx, xs = chart.scales.x, ys = chart.scales.y, area = chart.chartArea;
        const put = (list, font, color) => {
            ctx.font = font;
            ctx.fillStyle = color;
            list.forEach(l => ctx.fillText(l[0], xs.getPixelForValue(l[1]), ys.getPixelForValue(l[2])));
        };
        const putHeavy = (list, font, color) => {
            put(list, font, color);
            ctx.strokeStyle = color;
            ctx.lineWidth = 1.5;
            list.forEach(l => ctx.strokeText(l[0], xs.getPixelForValue(l[1]), ys.getPixelForValue(l[2])));
        };
        ctx.save();
        ctx.beginPath();
        ctx.rect(area.left, area.top, area.width, area.height);
        ctx.clip();
        ctx.textAlign = 'center';
        ctx.textBaseline = 'middle';
        putHeavy(downArrows, 'bold 26px "DejaVu Sans"', '#1e90ff');
        putHeavy(upArrows, 'bold 26px "DejaVu Sans"', '#ff69b4');
        put(shortLabels, '16px ' + SANS, '#add8e6');
        put(longLabels, '16px ' + SANS, '#ffb6c1');
        put([['做多', 109, 3962.7]], '16px ' + SANS, '#ff0000');
        put(buyStopLabels, '14px ' + SANS, '#ff1493');
        put(volumeLabels, '14px ' + SANS, '#ffff00');
        put(sellStopLabels, '14px ' + SANS, '#ffff00');
        put([['K', 19, 4028.7]], '30px ' + SANS, '#32b432');
        put([['D', 111, 3996.1]], 'bold 30px ' + SANS, '#ff0000');
        ctx.textAlign = 'left';
        levelLabels.forEach(l => put([l], '17px ' + SANS, l[3]));
        put([['00:49', 248.6, 4157.2]], '17px ' + SANS, '#ff0000');
        ctx.restore();
    },
    afterDraw(chart) {
        const ctx = chart.ctx, area = chart.chartArea, ys = chart.scales.y;
        ctx.save();
        // window edges and the two axis sides that Chart.js leaves open
        ctx.fillStyle = '#a0a0a0';
        ctx.fillRect(0, 0, 2560, 2);
        ctx.fillRect(0, 0, 2, 1240);
        ctx.fillStyle = '#f0f0f0';
        ctx.fillRect(0, 1238, 2560, 2);
        ctx.fillStyle = '#ffffff';
        ctx.fillRect(area.left, area.top, area.width, 1);
        ctx.fillRect(area.left, area.top, 1, area.height);

        ctx.textAlign = 'left';
        ctx.textBaseline = 'middle';
        ctx.font = '12.5px ' + SANS;
        ctx.fillStyle = '#ffffff';
        ctx.beginPath();
        ctx.moveTo(8, 12); ctx.lineTo(17, 12); ctx.lineTo(12.5, 17);
        ctx.closePath();
        ctx.fill();
        ctx.fillText('XAUUSD,M15  4154.66 4159.44 4154.66 4159.02', 23, 14);

        drawButtons(ctx);
        drawPanel(ctx);

        // price tag on the axis
        const py = ys.getPixelForValue(lastPrice);
        ctx.fillStyle = '#ffffff';
        ctx.fillRect(2496, py - 7, 56, 14);
        ctx.fillStyle = '#000000';
        ctx.font = '13px ' + SANS;
        ctx.textAlign = 'left';
        ctx.fillText(lastPrice.toFixed(2), 2501, py + 0.5);

        // watermark over everything
        ctx.font = 'bold 36px "Liberation Sans"';
        ctx.textAlign = 'center';
        ctx.fillStyle = 'rgba(128,128,128,0.2)';
        for (let wy = 123; wy < 1200; wy += 250) {
            for (let wx = 123; wx < 2560; wx += 250) {
                ctx.save();
                ctx.translate(wx, wy);
                ctx.rotate(-Math.PI / 6);
                ctx.fillText('EAHub.cn', 0, 0);
                ctx.restore();
            }
        }
        ctx.restore();
    }
};

new Chart(document.getElementById('xauChart').getContext('2d'), {
    data: {
        datasets: [
            {
                type: 'bar', order: 70, barThickness: 32, grouped: false,
                data: floating(hourBars, hourTop, hourBottom),
                backgroundColor: c => hourColors[hourKinds[c.dataIndex]]
            },
            {
                type: 'bar', order: 69, barThickness: 2, grouped: false,
                data: floating(hourBars, hourHigh, hourLow),
                backgroundColor: c => hourColors[hourKinds[c.dataIndex]]
            },
            {
                type: 'bar', order: 60, barThickness: 1, grouped: false,
                data: floating(null, wickHigh, wickLow),
                backgroundColor: c => lineColors[bodyKinds[c.dataIndex]]
            },
            {
                type: 'bar', order: 50, barThickness: 5, grouped: false,
                data: floating(null, bodyHigh, bodyLow),
                backgroundColor: c => bodyColors[bodyKinds[c.dataIndex]],
                borderColor: c => lineColors[bodyKinds[c.dataIndex]],
                borderWidth: c => bodyKinds[c.dataIndex] === 'h' ? 1 : 0,
                borderSkipped: false
            },
            {
                type: 'line', order: 45, data: level(levelPrices[0]), borderColor: '#ff0000',
                borderWidth: 1, borderDash: [3, 3], pointRadius: 0
            },
            {
                type: 'line', order: 45, data: level(levelPrices[1]), borderColor: '#ffff00',
                borderWidth: 2, pointRadius: 0
            },
            {
                type: 'line', order: 45, data: level(levelPrices[2]), borderColor: '#32cd32',
                borderWidth: 1, borderDash: [4, 4], pointRadius: 0
            },
            {
                type: 'line', order: 45, data: level(levelPrices[3]), borderColor: '#00fa9a',
                borderWidth: 1, borderDash: [4, 4], pointRadius: 0
            },
            {
                type: 'line', order: 44,
                data: [{ x: -0.125, y: lastPrice }, { x: 311.125, y: lastPrice }],
                borderColor: '#778899', borderWidth: 1, pointRadius: 0
            },
            {
                type: 'scatter', order: 40, data: dots(midBars, midLine), pointRadius: 4.8, pointBorderWidth: 0,
                pointBackgroundColor: c => midColors[midKinds[c.dataIndex]]
            },
            {
                type: 'scatter', order: 35, data: dots(null, slowLine), pointRadius: 3.1, pointBorderWidth: 0,
                pointBackgroundColor: c => slowColors[slowKinds[c.dataIndex]]
            },
            {
                type: 'scatter', order: 30, data: dots(null, fastLine), pointRadius: 3.1, pointBorderWidth: 0,
                pointBackgroundColor: c => fastColors[fastKinds[c.dataIndex]]
            },
            {
                type: 'scatter', order: 20, data: dots(shortRingBars, shortRingPrices), pointRadius: 5,
                pointBorderWidth: 2, pointBackgroundColor: '#000000', pointBorderColor: '#add8e6'
            },
            {
                type: 'scatter', order: 19, data: dots(shortRingBars, shortRingPrices), pointStyle: 'line',
                pointRotation: 90, pointRadius: 4, pointBorderWidth: 2, pointBorderColor: '#add8e6'
            },
            {
                type: 'scatter', order: 20, data: dots(longRingBars, longRingPrices), pointRadius: 5,
                pointBorderWidth: 2, pointBackgroundColor: '#000000', pointBorderColor: '#ffb6c1'
            },
            {
                type: 'scatter', order: 19, data: dots(longRingBars, longRingPrices), pointStyle: 'line',
                pointRotation: 90, pointRadius: 4, pointBorderWidth: 2, pointBorderColor: '#ffb6c1'
            },
            {
                type: 'scatter', order: 18, data: dots(redArrowBars, redArrowPrices), pointStyle: 'triangle',
                pointRadius: 11, pointBorderWidth: 0, pointBackgroundColor: '#ff0000'
            },
            {
                type: 'scatter', order: 17, data: dots(redArrowBars, [3968.6]), pointStyle: 'triangle',
                pointRadius: 5, pointBorderWidth: 0, pointBackgroundColor: '#400000'
            }
        ]
    },
    options: {
        responsive: false,
        devicePixelRatio: 1,
        animation: false,
        layout: { autoPadding: false, padding: { left: 4, top: 4, right: 0, bottom: 0 } },
        plugins: { legend: { display: false }, tooltip: { enabled: false } },
        scales: {
            x: {
                type: 'linear', offset: false, min: -0.125, max: 311.125,
                grid: { display: true, offset: false, drawOnChartArea: false, drawTicks: true, tickLength: 4, tickColor: '#ffffff' },
                border: { color: '#ffffff', width: 1 },
                ticks: {
                    color: '#ffffff', font: { family: SANS, size: 13 }, padding: 1, align: 'start',
                    autoSkip: false, maxRotation: 0,
                    callback: v => xTickLabels[xTickBars.indexOf(v)]
                },
                afterBuildTicks: s => { s.ticks = xTickBars.map(v => ({ value: v })); },
                afterFit: s => { s.height = 26; s.paddingLeft = 0; s.paddingRight = 0; }
            },
            y: {
                position: 'right', min: 3939.2, max: 4170.7,
                grid: { display: true, drawOnChartArea: false, drawTicks: true, tickLength: 4, tickColor: '#ffffff' },
                border: { color: '#ffffff', width: 1 },
                ticks: {
                    color: '#ffffff', font: { family: SANS, size: 13 }, padding: 2,
                    autoSkip: false,
                    callback: v => v.toFixed(2)
                },
                afterBuildTicks: s => { s.ticks = yTickValues.map(v => ({ value: v })); },
                afterFit: s => { s.width = 66; s.paddingTop = 0; s.paddingBottom = 0; }
            }
        }
    },
    plugins: [textPlugin]
});
</script>
</body>
</html>
